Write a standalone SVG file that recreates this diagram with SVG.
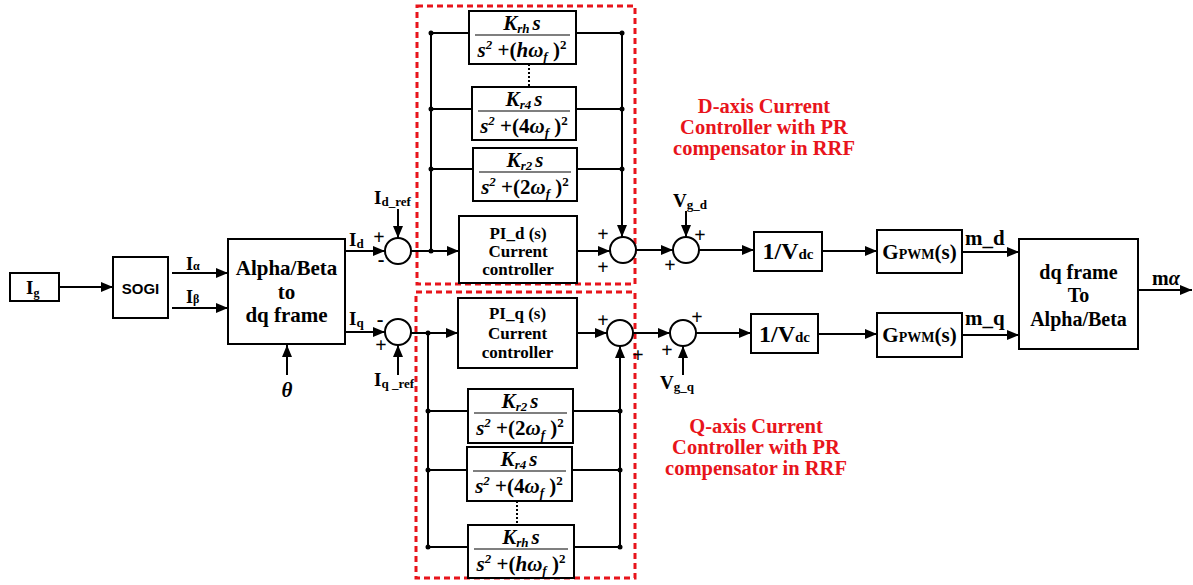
<svg xmlns="http://www.w3.org/2000/svg" width="1193" height="585" viewBox="0 0 1193 585">
<style>
.b{fill:#fff;stroke:#000;stroke-width:2}
.ln{fill:none;stroke:#000;stroke-width:2}
.ar{fill:none;stroke:#000;stroke-width:2;marker-end:url(#ah)}
.red{fill:none;stroke:#e8141b;stroke-width:3;stroke-dasharray:6,4}
.t{font-family:"Liberation Serif",serif;font-weight:bold;fill:#000}
.fr{font-family:"Liberation Serif",serif;font-weight:bold;font-style:italic;font-size:21px;fill:#000}
.sm{font-size:13px}
.rt{font-family:"Liberation Serif",serif;font-weight:bold;font-size:20.5px;fill:#e8141b}
.pm{font-family:"Liberation Serif",serif;font-weight:bold;font-size:20px;fill:#000}
.dot{fill:#000}
.bar{stroke:#000;stroke-width:1.2}
</style>
<defs>
<marker id="ah" markerUnits="userSpaceOnUse" markerWidth="13" markerHeight="10" refX="12" refY="5" orient="auto">
<path d="M0,0 L12,5 L0,10 z" fill="#000"/>
</marker>
</defs>

<g id="frames">
<rect class="red" x="417" y="6" width="218" height="278"/>
<rect class="red" x="416" y="292" width="219" height="286"/>
</g>

<g id="connectors">
<line class="ar" x1="59" y1="287" x2="113" y2="287"/>
<line class="ar" x1="172" y1="273" x2="228" y2="273"/>
<line class="ar" x1="172" y1="308" x2="228" y2="308"/>
<line class="ar" x1="287" y1="375" x2="287" y2="345"/>
<line class="ar" x1="345" y1="251" x2="385" y2="251"/>
<line class="ar" x1="345" y1="332" x2="385" y2="332"/>
<line class="ar" x1="398" y1="209" x2="398" y2="238"/>
<line class="ar" x1="398" y1="375" x2="398" y2="345"/>
<line class="ar" x1="411" y1="251" x2="459" y2="251"/>
<polyline class="ln" points="431,251 431,33 469,33"/>
<line class="ln" x1="431" y1="109" x2="472" y2="109"/>
<line class="ln" x1="431" y1="169" x2="473" y2="169"/>
<polyline class="ln" points="576,33 622,33 622,225"/>
<line class="ar" x1="622" y1="220" x2="622" y2="237"/>
<line class="ln" x1="576" y1="109" x2="622" y2="109"/>
<line class="ln" x1="577" y1="169" x2="622" y2="169"/>
<line class="ln" x1="529" y1="64" x2="529" y2="87" stroke-dasharray="2,2"/>
<line class="ar" x1="577" y1="251" x2="610" y2="251"/>
<circle class="dot" cx="431" cy="33" r="2.5"/>
<circle class="dot" cx="431" cy="109" r="2.5"/>
<circle class="dot" cx="431" cy="169" r="2.5"/>
<circle class="dot" cx="431" cy="251" r="2.5"/>
<circle class="dot" cx="622" cy="33" r="2.5"/>
<circle class="dot" cx="622" cy="109" r="2.5"/>
<circle class="dot" cx="622" cy="169" r="2.5"/>
<line class="ar" x1="411" y1="333" x2="458" y2="333"/>
<polyline class="ln" points="428,333 428,547 468,547"/>
<line class="ln" x1="428" y1="411" x2="468" y2="411"/>
<line class="ln" x1="428" y1="470" x2="467" y2="470"/>
<polyline class="ln" points="574,547 620,547 620,360"/>
<line class="ar" x1="620" y1="365" x2="620" y2="346"/>
<line class="ln" x1="573" y1="411" x2="620" y2="411"/>
<line class="ln" x1="572" y1="470" x2="620" y2="470"/>
<line class="ln" x1="517" y1="501" x2="517" y2="525" stroke-dasharray="2,2"/>
<line class="ar" x1="577" y1="333" x2="607" y2="333"/>
<circle class="dot" cx="428" cy="333" r="2.5"/>
<circle class="dot" cx="428" cy="411" r="2.5"/>
<circle class="dot" cx="428" cy="470" r="2.5"/>
<circle class="dot" cx="428" cy="547" r="2.5"/>
<circle class="dot" cx="620" cy="411" r="2.5"/>
<circle class="dot" cx="620" cy="470" r="2.5"/>
<circle class="dot" cx="620" cy="547" r="2.5"/>
<line class="ar" x1="636" y1="250" x2="673" y2="250"/>
<line class="ar" x1="686" y1="211" x2="686" y2="237"/>
<line class="ar" x1="699" y1="250" x2="754" y2="250"/>
<line class="ar" x1="822" y1="251" x2="877" y2="251"/>
<line class="ar" x1="962" y1="252" x2="1019" y2="252"/>
<line class="ar" x1="633" y1="333" x2="670" y2="333"/>
<line class="ar" x1="683" y1="375" x2="683" y2="346"/>
<line class="ar" x1="696" y1="333" x2="751" y2="333"/>
<line class="ar" x1="818" y1="334" x2="877" y2="334"/>
<line class="ar" x1="962" y1="335" x2="1019" y2="335"/>
<line class="ar" x1="1138" y1="290" x2="1192" y2="290"/>
</g>

<g id="Ig">
<rect class="b" x="10" y="273" width="49" height="28"/>
<text class="t" x="26" y="294" font-size="19">I<tspan font-size="12" dy="3">g</tspan></text>
</g>
<g id="SOGI">
<rect class="b" x="113" y="257" width="55" height="61"/>
<text x="140.5" y="294" font-family="Liberation Sans,sans-serif" font-weight="bold" font-size="15" text-anchor="middle">SOGI</text>
</g>
<g id="ialpha-labels">
<text class="t" x="186" y="270" font-size="18">I<tspan font-size="12">α</tspan></text>
<text class="t" x="186" y="303" font-size="18">I<tspan font-size="12">β</tspan></text>
</g>
<g id="abdq">
<rect class="b" x="228" y="239" width="117" height="105"/>
<text class="t" x="286.5" y="275" font-size="21" text-anchor="middle">Alpha/Beta</text>
<text class="t" x="286.5" y="299" font-size="21" text-anchor="middle">to</text>
<text class="t" x="286.5" y="322" font-size="21" text-anchor="middle">dq frame</text>
</g>
<g id="theta"><text class="t" x="287" y="397" font-size="21" font-style="italic" text-anchor="middle">θ</text></g>

<g id="sum-d">
<circle class="b" cx="398" cy="251" r="13"/>
<text class="t" x="349" y="246" font-size="19">I<tspan font-size="13" dy="2">d</tspan></text>
<text class="t" x="374" y="204" font-size="19">I<tspan font-size="13" dy="2">d_ref</tspan></text>
<text class="pm" x="379" y="244" text-anchor="middle">+</text>
<text class="pm" x="381" y="266" text-anchor="middle">-</text>
</g>
<g id="sum-q">
<circle class="b" cx="398" cy="332" r="13"/>
<text class="t" x="349" y="325" font-size="19">I<tspan font-size="13" dy="2">q</tspan></text>
<text class="t" x="374" y="386" font-size="19">I<tspan font-size="13" dy="2">q _ref</tspan></text>
<text class="pm" x="380" y="326" text-anchor="middle">-</text>
<text class="pm" x="381" y="352" text-anchor="middle">+</text>
</g>

<g id="pr-d-h">
<rect class="b" x="469" y="11" width="107" height="53"/>
<text class="fr" x="522" y="30" text-anchor="middle">K<tspan class="sm" dy="3">rh</tspan><tspan dy="-3" dx="3">s</tspan></text>
<line class="bar" x1="475" y1="35" x2="570" y2="35"/>
<text class="fr" x="522" y="57" text-anchor="middle">s<tspan class="sm" dy="-8">2</tspan><tspan dy="8" font-style="normal"> +(</tspan>hω<tspan class="sm" dy="4">f</tspan><tspan dy="-4" font-style="normal"> )</tspan><tspan class="sm" dy="-8" font-style="normal">2</tspan></text>
</g>
<g id="pr-d-4">
<rect class="b" x="472" y="87" width="104" height="53"/>
<text class="fr" x="524" y="106" text-anchor="middle">K<tspan class="sm" dy="3">r4</tspan><tspan dy="-3" dx="3">s</tspan></text>
<line class="bar" x1="478" y1="111" x2="570" y2="111"/>
<text class="fr" x="524" y="133" text-anchor="middle">s<tspan class="sm" dy="-8">2</tspan><tspan dy="8" font-style="normal"> +(4</tspan>ω<tspan class="sm" dy="4">f</tspan><tspan dy="-4" font-style="normal"> )</tspan><tspan class="sm" dy="-8" font-style="normal">2</tspan></text>
</g>
<g id="pr-d-2">
<rect class="b" x="473" y="148" width="104" height="53"/>
<text class="fr" x="525" y="167" text-anchor="middle">K<tspan class="sm" dy="3">r2</tspan><tspan dy="-3" dx="3">s</tspan></text>
<line class="bar" x1="479" y1="172" x2="571" y2="172"/>
<text class="fr" x="525" y="194" text-anchor="middle">s<tspan class="sm" dy="-8">2</tspan><tspan dy="8" font-style="normal"> +(2</tspan>ω<tspan class="sm" dy="4">f</tspan><tspan dy="-4" font-style="normal"> )</tspan><tspan class="sm" dy="-8" font-style="normal">2</tspan></text>
</g>
<g id="pi-d">
<rect class="b" x="459" y="216" width="118" height="67"/>
<text class="t" x="518" y="239" font-size="17" text-anchor="middle">PI_d (s)</text>
<text class="t" x="518" y="257" font-size="17" text-anchor="middle">Current</text>
<text class="t" x="518" y="275" font-size="17" text-anchor="middle">controller</text>
</g>
<g id="sum-d2">
<circle class="b" cx="623" cy="250" r="13"/>
<text class="pm" x="603" y="241" text-anchor="middle">+</text>
<text class="pm" x="603" y="274" text-anchor="middle">+</text>
</g>

<g id="pi-q">
<rect class="b" x="458" y="298" width="119" height="70"/>
<text class="t" x="517.5" y="319" font-size="17" text-anchor="middle">PI_q (s)</text>
<text class="t" x="517.5" y="339" font-size="17" text-anchor="middle">Current</text>
<text class="t" x="517.5" y="358" font-size="17" text-anchor="middle">controller</text>
</g>
<g id="pr-q-2">
<rect class="b" x="468" y="389" width="105" height="54"/>
<text class="fr" x="520" y="408" text-anchor="middle">K<tspan class="sm" dy="3">r2</tspan><tspan dy="-3" dx="3">s</tspan></text>
<line class="bar" x1="474" y1="413" x2="567" y2="413"/>
<text class="fr" x="520" y="435" text-anchor="middle">s<tspan class="sm" dy="-8">2</tspan><tspan dy="8" font-style="normal"> +(2</tspan>ω<tspan class="sm" dy="4">f</tspan><tspan dy="-4" font-style="normal"> )</tspan><tspan class="sm" dy="-8" font-style="normal">2</tspan></text>
</g>
<g id="pr-q-4">
<rect class="b" x="467" y="447" width="105" height="54"/>
<text class="fr" x="519" y="466" text-anchor="middle">K<tspan class="sm" dy="3">r4</tspan><tspan dy="-3" dx="3">s</tspan></text>
<line class="bar" x1="473" y1="471" x2="566" y2="471"/>
<text class="fr" x="519" y="493" text-anchor="middle">s<tspan class="sm" dy="-8">2</tspan><tspan dy="8" font-style="normal"> +(4</tspan>ω<tspan class="sm" dy="4">f</tspan><tspan dy="-4" font-style="normal"> )</tspan><tspan class="sm" dy="-8" font-style="normal">2</tspan></text>
</g>
<g id="pr-q-h">
<rect class="b" x="468" y="525" width="106" height="53"/>
<text class="fr" x="521" y="544" text-anchor="middle">K<tspan class="sm" dy="3">rh</tspan><tspan dy="-3" dx="3">s</tspan></text>
<line class="bar" x1="474" y1="549" x2="568" y2="549"/>
<text class="fr" x="521" y="571" text-anchor="middle">s<tspan class="sm" dy="-8">2</tspan><tspan dy="8" font-style="normal"> +(</tspan>hω<tspan class="sm" dy="4">f</tspan><tspan dy="-4" font-style="normal"> )</tspan><tspan class="sm" dy="-8" font-style="normal">2</tspan></text>
</g>
<g id="sum-q2">
<circle class="b" cx="620" cy="333" r="13"/>
<text class="pm" x="603" y="327" text-anchor="middle">+</text>
<text class="pm" x="638" y="362" text-anchor="middle">+</text>
</g>

<g id="sum-vgd">
<circle class="b" cx="686" cy="250" r="13"/>
<text class="t" x="673" y="207" font-size="19">V<tspan font-size="13" dy="2">g_d</tspan></text>
<text class="pm" x="700" y="242" text-anchor="middle">+</text>
<text class="pm" x="670" y="272" text-anchor="middle">+</text>
</g>
<g id="sum-vgq">
<circle class="b" cx="683" cy="333" r="13"/>
<text class="t" x="660" y="389" font-size="19">V<tspan font-size="13" dy="2">g_q</tspan></text>
<text class="pm" x="697" y="324" text-anchor="middle">+</text>
<text class="pm" x="667" y="357" text-anchor="middle">+</text>
</g>

<g id="vdc-d">
<rect class="b" x="754" y="232" width="68" height="39"/>
<text class="t" x="788" y="259" font-size="24" text-anchor="middle">1/V<tspan font-size="15">dc</tspan></text>
</g>
<g id="vdc-q">
<rect class="b" x="751" y="314" width="67" height="39"/>
<text class="t" x="784.5" y="342" font-size="24" text-anchor="middle">1/V<tspan font-size="15">dc</tspan></text>
</g>
<g id="gpwm-d">
<rect class="b" x="877" y="230" width="85" height="43"/>
<text class="t" x="919.5" y="259" font-size="21" text-anchor="middle">G<tspan font-size="14">PWM</tspan>(s)</text>
</g>
<g id="gpwm-q">
<rect class="b" x="877" y="313" width="85" height="44"/>
<text class="t" x="919.5" y="342" font-size="21" text-anchor="middle">G<tspan font-size="14">PWM</tspan>(s)</text>
</g>
<g id="m-labels">
<text class="t" x="965" y="245" font-size="21">m_d</text>
<text class="t" x="965" y="325" font-size="21">m_q</text>
<text class="t" x="1152" y="285" font-size="20">m<tspan font-style="italic">α</tspan></text>
</g>
<g id="dq-ab">
<rect class="b" x="1019" y="239" width="119" height="110"/>
<text class="t" x="1078.5" y="279" font-size="20" text-anchor="middle">dq frame</text>
<text class="t" x="1078.5" y="302" font-size="20" text-anchor="middle">To</text>
<text class="t" x="1078.5" y="326" font-size="20" text-anchor="middle">Alpha/Beta</text>
</g>

<g id="labels-red">
<text class="rt" x="764" y="113" text-anchor="middle">D-axis Current</text>
<text class="rt" x="764" y="134" text-anchor="middle">Controller with PR</text>
<text class="rt" x="764" y="155" text-anchor="middle">compensator in RRF</text>
<text class="rt" x="756" y="433" text-anchor="middle">Q-axis Current</text>
<text class="rt" x="756" y="454" text-anchor="middle">Controller with PR</text>
<text class="rt" x="756" y="475" text-anchor="middle">compensator in RRF</text>
</g>
</svg>
